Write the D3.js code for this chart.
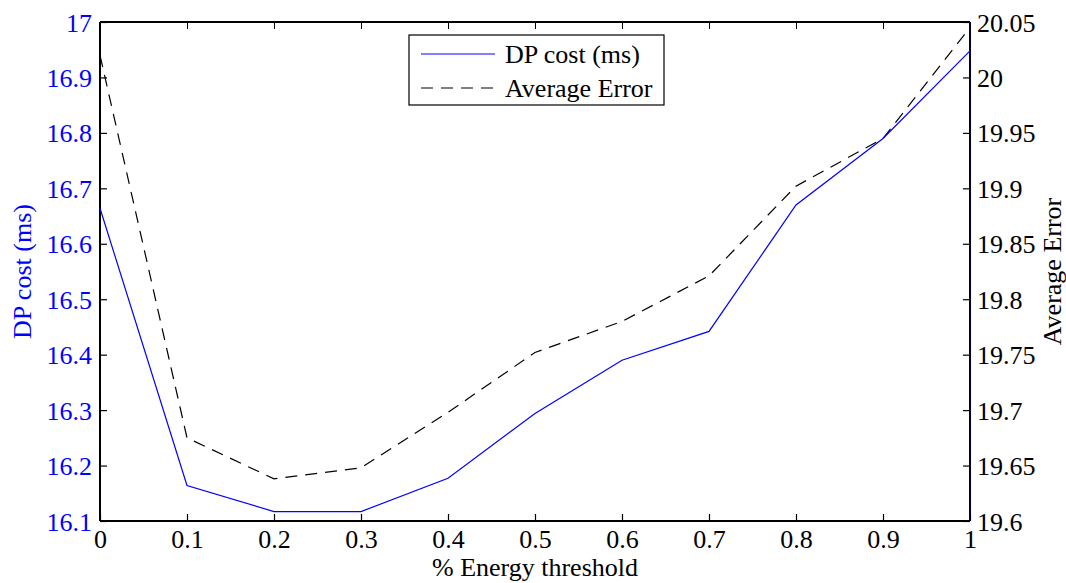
<!DOCTYPE html>
<html>
<head>
<meta charset="utf-8">
<script src="https://cdnjs.cloudflare.com/ajax/libs/d3/7.8.5/d3.min.js"></script>
<style>
  body { margin: 0; background: #fff; }
  text { font-family: "Liberation Serif", "Times New Roman", serif; }
</style>
</head>
<body>
<div class="chart"></div>
<script>
var svgWidth = 1066;
var svgHeight = 583;

var margin = { top: 22, right: 96, bottom: 62, left: 100 };
var width = svgWidth - margin.left - margin.right;
var height = svgHeight - margin.top - margin.bottom;

// data
var threshold = [0, 0.1, 0.2, 0.3, 0.4, 0.5, 0.6, 0.7, 0.8, 0.9, 1];
var dpCost = [16.664, 16.164, 16.117, 16.117, 16.177, 16.294, 16.39, 16.442, 16.67, 16.79, 16.948];
var avgError = [20.02, 19.675, 19.638, 19.648, 19.698, 19.752, 19.78, 19.821, 19.902, 19.945, 20.045];

var xTicks = [0, 0.1, 0.2, 0.3, 0.4, 0.5, 0.6, 0.7, 0.8, 0.9, 1];
var leftTicks = [16.1, 16.2, 16.3, 16.4, 16.5, 16.6, 16.7, 16.8, 16.9, 17];
var rightTicks = [19.6, 19.65, 19.7, 19.75, 19.8, 19.85, 19.9, 19.95, 20, 20.05];

var svg = d3.select(".chart")
  .append("svg")
  .attr("width", svgWidth)
  .attr("height", svgHeight);

var chartGroup = svg.append("g")
  .attr("transform", `translate(${margin.left}, ${margin.top})`);

var xScale = d3.scaleLinear().domain([0, 1]).range([0, width]);
var yLeft = d3.scaleLinear().domain([16.1, 17]).range([height, 0]);
var yRight = d3.scaleLinear().domain([19.6, 20.05]).range([height, 0]);

var fontSize = 26;
var tickLen = 7;

// bottom axis (ticks inward)
var bottomAxis = d3.axisBottom(xScale)
  .tickValues(xTicks)
  .tickSizeInner(-tickLen)
  .tickSizeOuter(0)
  .tickPadding(9)
  .tickFormat(d3.format("~g"));

var xAxis = chartGroup.append("g")
  .attr("transform", `translate(0, ${height})`)
  .call(bottomAxis);

// top axis mirror ticks, no labels
var topAxis = d3.axisTop(xScale)
  .tickValues(xTicks)
  .tickSizeInner(-tickLen)
  .tickSizeOuter(0)
  .tickFormat("");
chartGroup.append("g").call(topAxis);

// left axis
var leftAxis = d3.axisLeft(yLeft)
  .tickValues(leftTicks)
  .tickSizeInner(-tickLen)
  .tickSizeOuter(0)
  .tickPadding(8)
  .tickFormat(d3.format("~g"));
var yAxisL = chartGroup.append("g").call(leftAxis);

// right axis
var rightAxis = d3.axisRight(yRight)
  .tickValues(rightTicks)
  .tickSizeInner(-tickLen)
  .tickSizeOuter(0)
  .tickPadding(7)
  .tickFormat(d3.format("~g"));
var yAxisR = chartGroup.append("g")
  .attr("transform", `translate(${width}, 0)`)
  .call(rightAxis);

[xAxis, yAxisL, yAxisR].forEach(function(ax) {
  ax.selectAll("text")
    .style("font-family", "'Liberation Serif', serif")
    .style("font-size", fontSize + "px");
  ax.selectAll("line").attr("stroke", "#000").attr("stroke-width", 1.2);
  ax.select(".domain").remove();
});
chartGroup.selectAll(".tick line").attr("stroke", "#000");
yAxisL.selectAll("text").attr("fill", "#0000ff").attr("dy", "0.35em");
yAxisR.selectAll("text").attr("fill", "#000").attr("dy", "0.35em");
xAxis.selectAll("text").attr("fill", "#000");

// axis box lines
chartGroup.append("line")
  .attr("x1", 0).attr("x2", width).attr("y1", 0).attr("y2", 0)
  .attr("stroke", "#000").attr("stroke-width", 2);
chartGroup.append("line")
  .attr("x1", 0).attr("x2", width).attr("y1", height).attr("y2", height)
  .attr("stroke", "#000").attr("stroke-width", 2);
chartGroup.append("line")
  .attr("x1", 0).attr("x2", 0).attr("y1", 0).attr("y2", height)
  .attr("stroke", "#000").attr("stroke-width", 2);
chartGroup.append("line")
  .attr("x1", width).attr("x2", width).attr("y1", 0).attr("y2", height)
  .attr("stroke", "#000033").attr("stroke-width", 2);

// lines
var dpLine = d3.line()
  .x((d, i) => xScale(threshold[i]))
  .y(d => yLeft(d));
var errLine = d3.line()
  .x((d, i) => xScale(threshold[i]))
  .y(d => yRight(d));

chartGroup.append("path")
  .datum(avgError)
  .attr("d", errLine)
  .attr("fill", "none")
  .attr("stroke", "#000")
  .attr("stroke-width", 1.2)
  .attr("stroke-dasharray", "12,8");

chartGroup.append("path")
  .datum(dpCost)
  .attr("d", dpLine)
  .attr("fill", "none")
  .attr("stroke", "#0000ff")
  .attr("stroke-width", 1.2);

// legend
var legend = svg.append("g").attr("transform", "translate(409, 35)");
legend.append("rect")
  .attr("width", 255).attr("height", 70)
  .attr("fill", "#fff").attr("stroke", "#000").attr("stroke-width", 1.2);
legend.append("line")
  .attr("x1", 12).attr("x2", 86).attr("y1", 19).attr("y2", 19)
  .attr("stroke", "#0000ff").attr("stroke-width", 1.2);
legend.append("line")
  .attr("x1", 12).attr("x2", 86).attr("y1", 53).attr("y2", 53)
  .attr("stroke", "#000").attr("stroke-width", 1.2)
  .attr("stroke-dasharray", "12,8");
legend.append("text")
  .attr("x", 96).attr("y", 28)
  .style("font-size", fontSize + "px")
  .text("DP cost (ms)");
legend.append("text")
  .attr("x", 96).attr("y", 62)
  .style("font-size", fontSize + "px")
  .text("Average Error");

// axis labels
svg.append("text")
  .attr("x", margin.left + width / 2)
  .attr("y", 576)
  .attr("text-anchor", "middle")
  .style("font-size", fontSize + "px")
  .text("% Energy threshold");

svg.append("text")
  .attr("transform", `translate(31, ${margin.top + height / 2}) rotate(-90)`)
  .attr("text-anchor", "middle")
  .attr("fill", "#0000ff")
  .style("font-size", fontSize + "px")
  .text("DP cost (ms)");

svg.append("text")
  .attr("transform", `translate(1061, ${margin.top + height / 2}) rotate(-90)`)
  .attr("text-anchor", "middle")
  .attr("fill", "#000")
  .style("font-size", fontSize + "px")
  .text("Average Error");
</script>
</body>
</html>
